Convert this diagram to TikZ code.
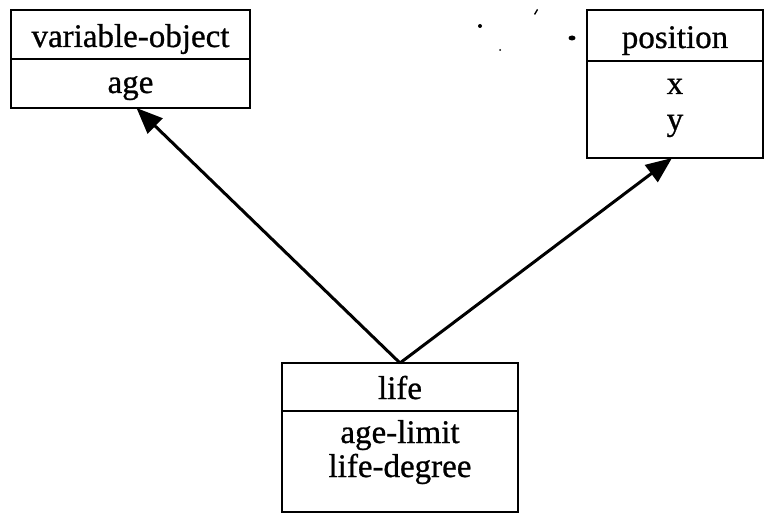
\documentclass[tikz,border=0pt]{standalone}
\usepackage{fontspec}
\setmainfont{Liberation Serif}
\newfontfamily\classfont[FakeBold=0.8]{Liberation Serif}
\usetikzlibrary{arrows.meta}
\begin{document}
\begin{tikzpicture}[x=1pt,y=-1pt,
  classbox/.style={draw, line width=2.8pt, inner sep=0pt, outer sep=0pt},
  divider/.style={line width=2.6pt},
  label/.style={inner sep=0pt, anchor=base, font=\classfont\fontsize{33}{40}\selectfont},
  inherit/.style={line width=3pt, -{Triangle[length=26pt,width=21pt]}},
  speck/.style={fill=black, draw=none}]
  \useasboundingbox (0,0) rectangle (765,516);

  % class: variable-object
  \node[classbox, minimum width=239pt, minimum height=98pt] (vo) at (130.5,59) {};
  \draw[divider] (vo.west |- 0,59) -- (vo.east |- 0,59);
  \node[label] (votitle) at (130.5,47) {variable-object};
  \node[label] (voage) at (130.5,93) {age};

  % class: position
  \node[classbox, minimum width=176pt, minimum height=148pt] (pos) at (675,84) {};
  \draw[divider] (pos.west |- 0,61) -- (pos.east |- 0,61);
  \node[label] (postitle) at (675,48) {position};
  \node[label] (posx) at (675,94) {x};
  \node[label] (posy) at (675,130) {y};

  % class: life
  \node[classbox, minimum width=236pt, minimum height=149pt] (life) at (400,437.5) {};
  \draw[divider] (life.west |- 0,411) -- (life.east |- 0,411);
  \node[label] (lifetitle) at (400,399) {life};
  \node[label] (lifeage) at (400,443) {age-limit};
  \node[label] (lifedeg) at (400,477) {life-degree};

  % generalisation arrows
  \draw[inherit] (life.north) -- ([xshift=6pt]vo.south);
  \draw[inherit] (life.north) -- ([xshift=-3pt]pos.south);

  % specks
  \fill[speck] (480,26) circle (2pt);
  \fill[speck] (572,38) ellipse (3.5pt and 2.5pt);
  \fill[speck] (534,14) -- (537,9) -- (538,10) -- (535,15) -- cycle;
  \fill[speck] (500,50) circle (1pt);
\end{tikzpicture}
\end{document}
